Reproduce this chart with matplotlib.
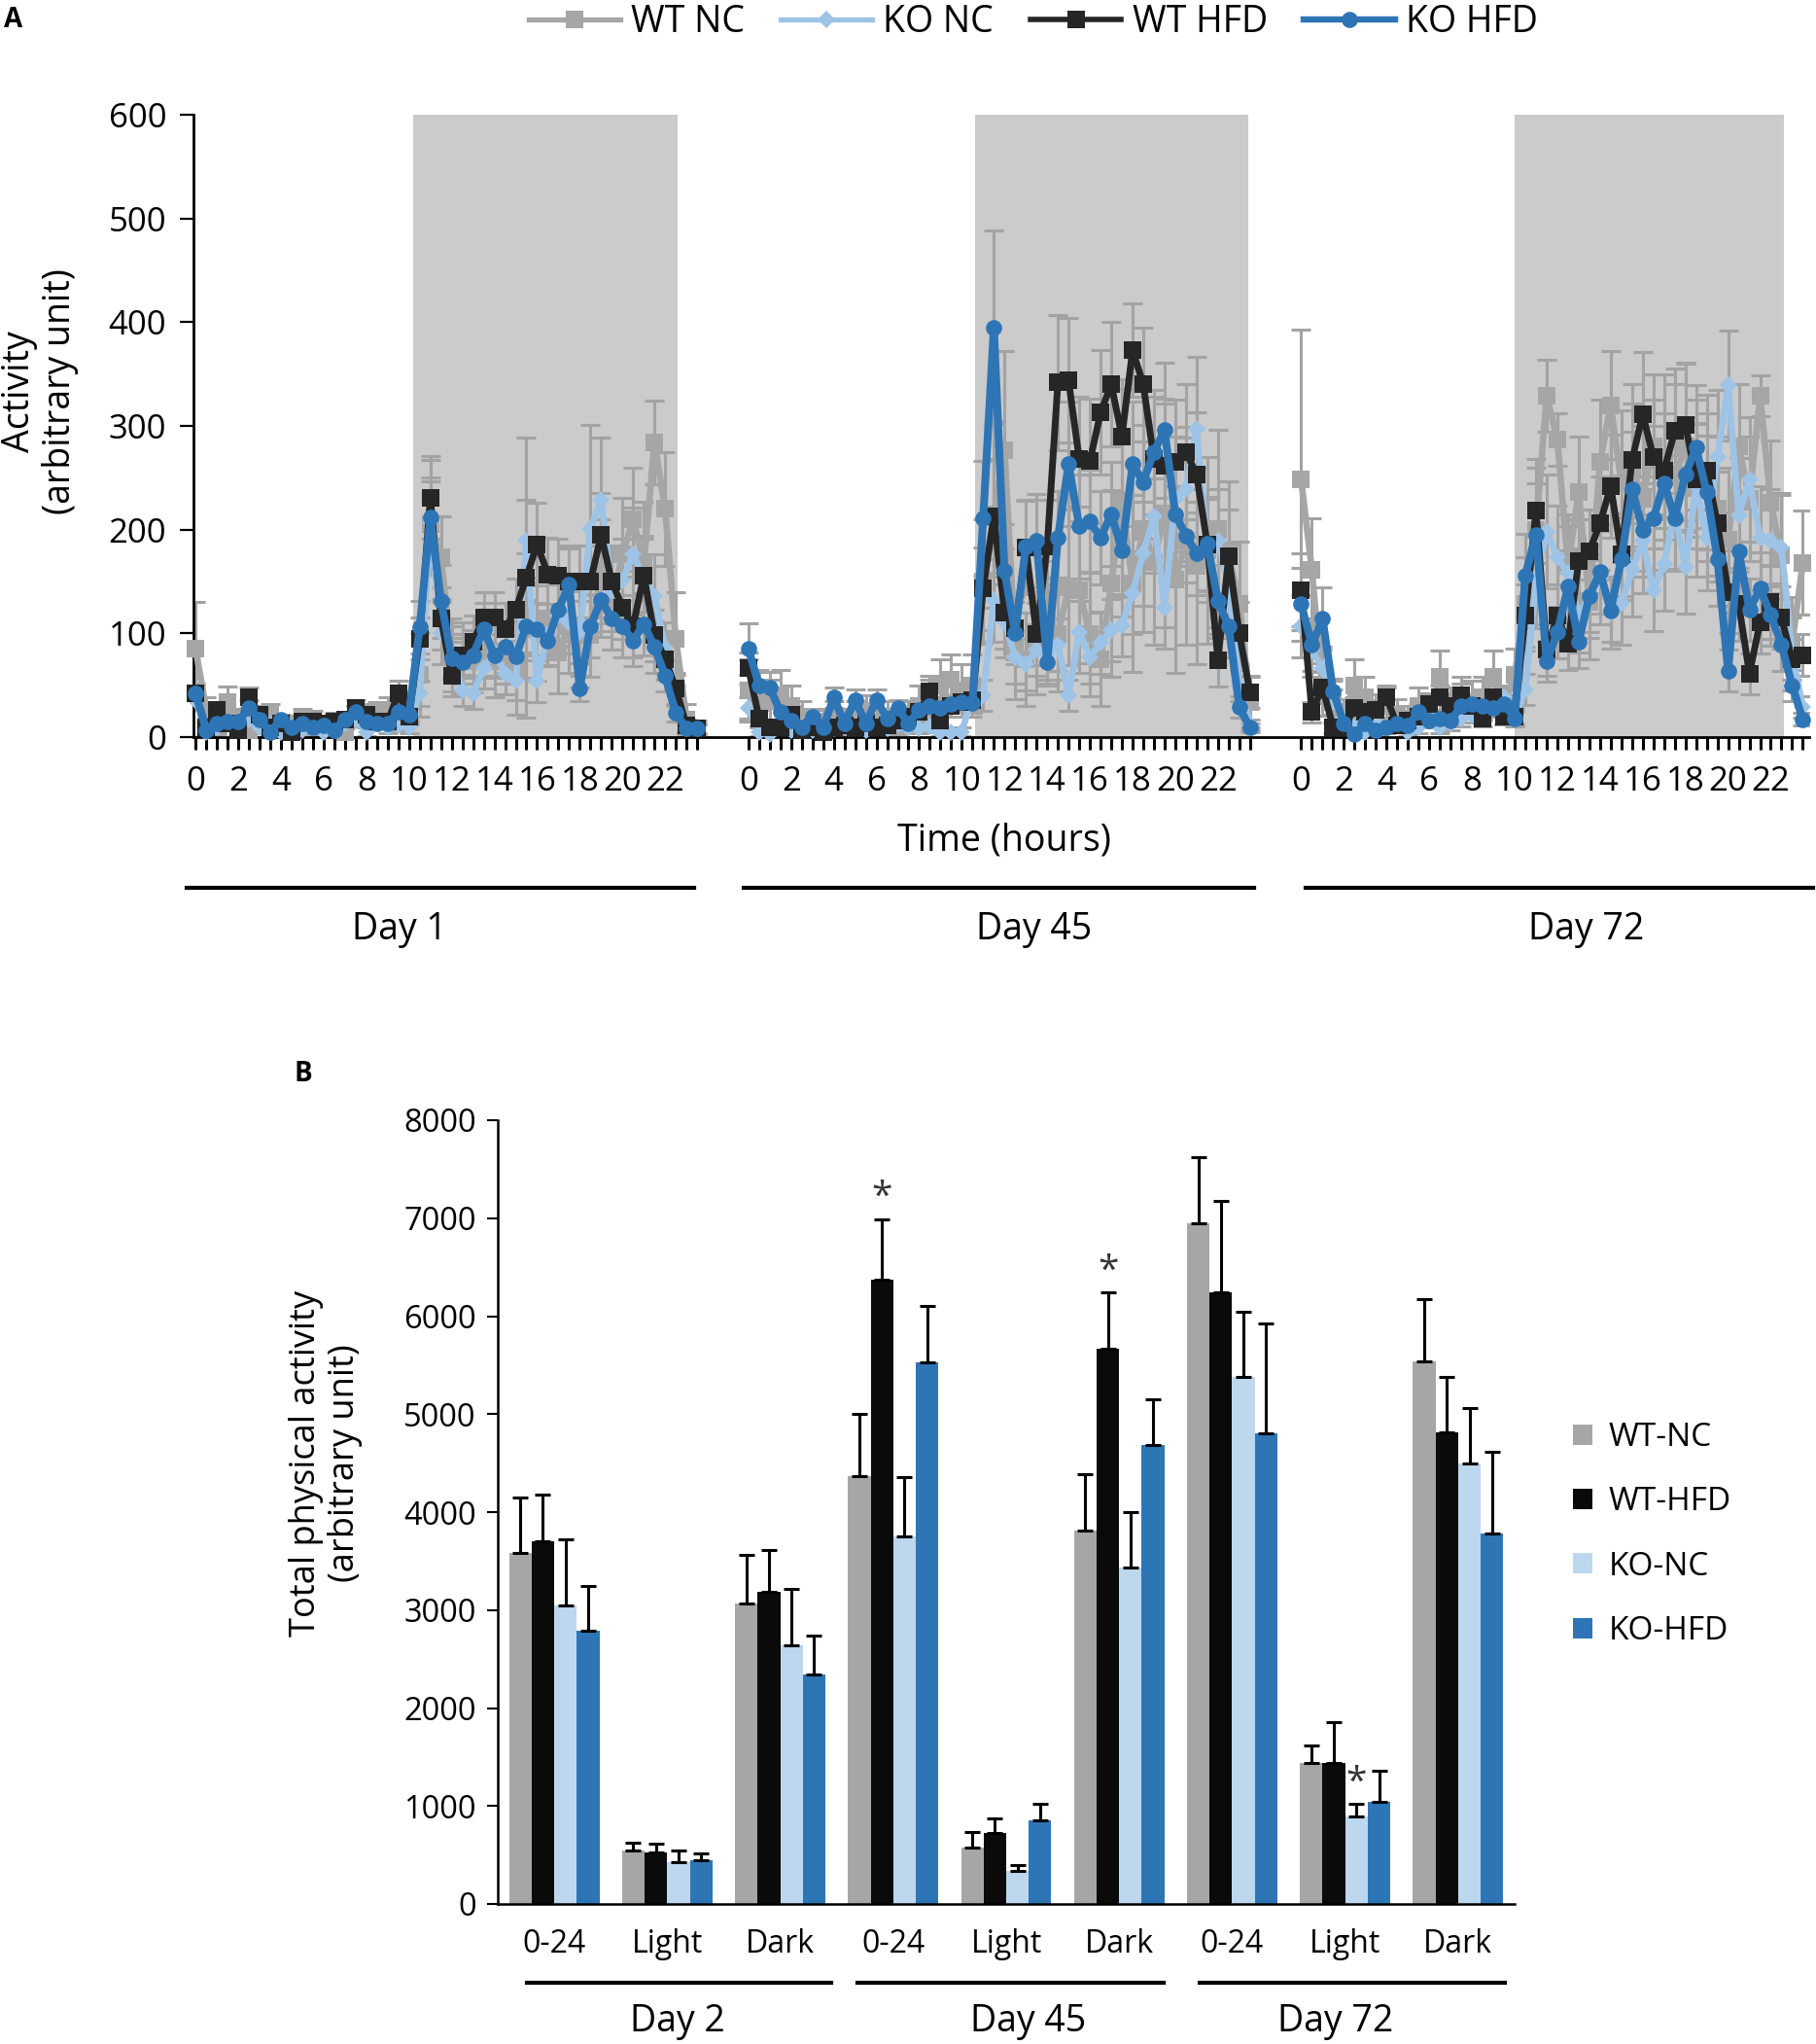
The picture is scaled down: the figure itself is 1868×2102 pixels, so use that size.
import matplotlib
matplotlib.use('Agg')
import matplotlib.pyplot as plt
import numpy as np
from matplotlib.lines import Line2D
from matplotlib.patches import Patch

plt.rcParams['font.family'] = ['Open Sans', 'DejaVu Sans']

# ---------------- DATA : panel A (half-hourly activity) ----------------
hours = np.arange(0, 24, 0.5)
day_names_a = ['Day 1', 'Day 45', 'Day 72']
series_names = ['WT NC', 'KO NC', 'WT HFD', 'KO HFD']
dark_start = [10.2, 10.6, 10.0]
dark_end = [22.6, 23.4, 22.6]

wt_nc_d1 = [85,26,13,34,17,7,17,22,9,13,17,15,13,15,5,20,22,24,26,17,
            28,60,205,173,79,76,73,82,73,82,67,117,104,114,82,107,98,98,160,129,176,210,167,284,220,95,17,8]
ko_nc_d1 = [36,5,9,13,7,17,9,11,5,9,7,9,5,9,13,17,5,13,9,11,
            9,42,207,100,82,45,42,67,82,61,54,189,54,98,117,111,101,201,229,142,151,176,154,136,86,45,11,8]
wt_hfd_d1 = [42,9,26,13,7,38,22,9,13,5,15,15,13,15,17,28,22,15,15,42,
             20,95,231,114,59,79,92,115,115,104,123,154,186,157,156,150,150,150,195,150,125,107,156,98,75,47,11,8]
ko_hfd_d1 = [42,7,13,15,15,28,17,5,17,9,13,9,11,7,17,24,15,13,13,24,
             22,106,212,131,76,72,79,104,79,87,78,107,104,93,123,147,47,107,132,114,107,93,109,87,59,23,8,8]

wt_nc_d45 = [45,30,35,40,30,20,15,15,20,15,20,25,15,20,15,20,30,35,50,55,
             45,50,150,215,277,87,75,91,110,99,144,142,99,75,148,226,148,201,169,216,152,189,165,180,201,177,128,34]
ko_nc_d45 = [28,5,3,9,7,9,7,10,8,12,9,7,10,8,12,9,8,10,5,5,
             5,40,40,132,112,77,70,84,80,89,40,101,77,91,103,108,139,177,213,125,230,239,297,180,189,146,50,12]
wt_hfd_d45 = [67,18,9,9,22,7,9,5,9,11,9,13,9,11,16,20,24,44,16,30,
              34,36,143,213,120,105,183,99,184,342,344,268,266,313,340,290,373,340,268,262,265,275,253,186,74,174,100,43]
ko_hfd_d45 = [85,50,48,24,16,9,20,9,38,13,36,13,36,18,28,13,26,30,28,32,
              34,33,211,395,160,100,184,189,72,192,263,203,208,192,215,180,263,246,275,296,215,194,177,187,131,107,29,9]

wt_nc_d72 = [248,161,46,34,22,50,38,26,30,22,18,30,24,58,30,38,34,38,58,30,
             60,128,200,329,287,165,236,130,265,320,245,260,230,280,270,250,280,240,250,220,190,280,230,329,226,175,90,168]
ko_nc_d72 = [107,83,67,34,18,9,5,13,9,11,5,9,30,9,13,18,22,26,30,38,
             18,46,150,198,173,158,117,136,154,120,129,161,189,142,167,217,164,242,192,270,339,214,248,192,189,183,80,29]
wt_hfd_d72 = [142,24,48,9,9,28,24,26,38,11,16,20,32,38,30,40,30,18,38,20,
              20,117,218,84,117,90,170,179,206,242,176,267,311,270,257,295,301,248,257,206,140,128,61,111,130,115,75,79]
ko_hfd_d72 = [128,89,114,44,13,3,13,7,9,13,11,24,16,18,16,30,32,30,28,32,
              18,156,195,73,101,145,92,136,159,122,172,239,200,211,245,211,253,279,236,172,64,179,123,143,118,89,50,17]

wt_nc_err_d1 = [45,12,10,15,10,8,10,10,8,8,10,10,8,8,6,10,10,10,12,10,
                15,40,45,40,35,35,30,35,35,30,45,60,50,45,40,45,50,40,50,45,55,50,60,40,55,45,15,8]
wt_nc_err_d45 = [30,20,20,25,20,15,12,12,15,12,15,15,12,15,12,15,20,20,25,25,
                 25,30,60,90,95,50,45,50,60,55,75,80,60,45,90,110,85,100,80,110,90,100,95,90,95,70,60,25]
wt_nc_err_d72 = [145,50,25,20,15,25,20,15,18,15,12,18,15,25,18,20,20,20,25,18,
                 25,45,60,35,25,50,54,55,60,52,70,80,70,70,80,90,80,85,80,70,70,60,60,20,60,60,45,50]
wt_hfd_err_d1 = [10,6,8,6,5,10,8,5,6,4,6,6,6,6,6,8,8,6,6,12,
                 8,20,40,30,20,20,25,25,25,25,30,135,40,35,35,35,35,35,40,35,30,30,35,25,20,15,6,5]
wt_hfd_err_d45 = [15,8,6,6,8,5,6,4,6,6,6,6,6,6,8,8,10,15,8,10,
                  10,12,40,55,35,30,45,30,45,65,60,60,60,60,60,55,45,55,60,60,60,65,60,45,25,45,30,15]
wt_hfd_err_d72 = [35,10,15,5,5,10,10,10,12,6,8,8,10,12,10,12,10,8,12,8,
                  8,30,50,25,30,25,40,40,45,50,40,55,60,55,55,60,60,55,55,50,40,35,20,30,35,30,20,20]
ko_nc_err_d1 = [10,4,5,5,4,6,5,5,4,5,4,5,4,5,5,6,4,5,5,5,
                5,12,40,30,25,15,15,20,25,20,18,40,20,30,30,30,30,100,60,40,40,45,40,40,25,15,5,5]
ko_nc_err_d45 = [10,4,3,5,4,5,4,5,4,5,5,4,5,4,5,5,4,5,4,4,
                 4,12,15,40,35,25,25,25,25,25,15,30,25,30,30,30,40,50,55,40,60,60,70,50,50,40,15,5]
ko_nc_err_d72 = [30,25,20,12,8,5,4,6,5,5,4,5,10,5,6,8,8,10,10,12,
                 8,15,45,55,50,45,35,40,45,35,40,45,50,40,45,55,45,60,50,65,53,55,60,50,50,50,35,10]
ko_hfd_err_d1 = [8,4,5,5,5,8,5,4,5,4,5,4,4,4,5,6,5,4,4,6,
                 6,25,55,35,20,20,20,25,20,25,20,25,25,25,30,35,12,30,35,30,30,25,30,25,15,8,4,4]
ko_hfd_err_d45 = [25,15,15,8,6,4,6,4,10,5,10,5,10,6,8,5,8,8,8,8,
                  10,10,55,93,45,30,45,45,20,45,60,50,50,45,50,45,60,55,60,65,50,45,40,45,35,30,10,4]
ko_hfd_err_d72 = [35,25,30,12,5,3,5,4,4,5,4,8,5,6,5,8,8,8,8,8,
                  6,40,50,20,25,35,25,35,40,30,40,55,45,50,55,50,55,60,55,45,20,45,30,35,30,25,15,6]

# ---------------- DATA : panel B (totals) ----------------
b_categories = ['0-24', 'Light', 'Dark', '0-24', 'Light', 'Dark', '0-24', 'Light', 'Dark']
b_days = ['Day 2', 'Day 45', 'Day 72']
b_series = ['WT-NC', 'WT-HFD', 'KO-NC', 'KO-HFD']
b_wt_nc = [3583, 550, 3066, 4364, 577, 3809, 6950, 1439, 5539]
b_wt_hfd = [3701, 523, 3190, 6374, 722, 5668, 6245, 1439, 4817]
b_ko_nc = [3044, 426, 2640, 3755, 334, 3438, 5383, 889, 4494]
b_ko_hfd = [2786, 447, 2344, 5528, 851, 4688, 4806, 1045, 3782]
b_wt_nc_err = [566, 80, 501, 641, 161, 577, 668, 177, 630]
b_wt_hfd_err = [475, 91, 420, 614, 151, 571, 932, 420, 560]
b_ko_nc_err = [674, 124, 571, 598, 65, 560, 657, 129, 565]
b_ko_hfd_err = [458, 70, 398, 577, 173, 463, 1115, 313, 836]
b_star_cat = [3, 5, 7]
b_star_series = [1, 1, 2]

# ---------------- STYLE / LAYOUT ----------------
W, H = 1868, 2102
def fx(p): return p / W
def fy(p): return 1 - p / H

day_offset = [0, 25.9, 51.8]
colA = {'WT NC': '#a6a6a6', 'KO NC': '#9dc3e6', 'WT HFD': '#262626', 'KO HFD': '#2e75b6'}
mkA = {'WT NC': ('s', 13), 'KO NC': ('D', 9.5), 'WT HFD': ('s', 13), 'KO HFD': ('o', 12)}
lwA = {'WT NC': 4.8, 'KO NC': 4.8, 'WT HFD': 5.0, 'KO HFD': 5.8}
colB = ['#a6a6a6', '#0a0a0a', '#bdd7ee', '#2e75b6']

fig = plt.figure(figsize=(W / 100, H / 100), dpi=100)

# ================= Panel A =================
axA = fig.add_axes([fx(199), fy(758), fx(1861) - fx(199), fy(118) - fy(758)])
vals = {
    'WT NC': [wt_nc_d1, wt_nc_d45, wt_nc_d72],
    'KO NC': [ko_nc_d1, ko_nc_d45, ko_nc_d72],
    'WT HFD': [wt_hfd_d1, wt_hfd_d45, wt_hfd_d72],
    'KO HFD': [ko_hfd_d1, ko_hfd_d45, ko_hfd_d72],
}
errs = {
    'WT NC': [wt_nc_err_d1, wt_nc_err_d45, wt_nc_err_d72],
    'KO NC': [ko_nc_err_d1, ko_nc_err_d45, ko_nc_err_d72],
    'WT HFD': [wt_hfd_err_d1, wt_hfd_err_d45, wt_hfd_err_d72],
    'KO HFD': [ko_hfd_err_d1, ko_hfd_err_d45, ko_hfd_err_d72],
}
for d in range(3):
    axA.axvspan(day_offset[d] + dark_start[d], day_offset[d] + dark_end[d],
                ymin=0, ymax=1, color='#cbcbcb', lw=0, zorder=0)

for name in series_names:
    for d in range(3):
        x = hours + day_offset[d]
        axA.errorbar(x, vals[name][d], yerr=errs[name][d], fmt='none',
                     ecolor='#a3a3a3', elinewidth=2.2, capsize=7, capthick=2.2, zorder=2)
for z, name in enumerate(series_names):
    for d in range(3):
        x = hours + day_offset[d]
        m, ms = mkA[name]
        axA.plot(x, vals[name][d], color=colA[name], lw=lwA[name], marker=m,
                 markersize=ms, markeredgewidth=0, zorder=3 + z, clip_on=False)

axA.set_xlim(-0.1, 75.6)
axA.set_ylim(0, 600)
axA.set_yticks([0, 100, 200, 300, 400, 500, 600])
axA.tick_params(axis='y', labelsize=25, length=10, width=1.6, direction='out', pad=10)
xt, xl = [], []
for d in range(3):
    for h in hours:
        xt.append(day_offset[d] + h)
        xl.append(str(int(h)) if h % 2 == 0 else '')
axA.set_xticks(xt)
axA.set_xticklabels(xl)
axA.tick_params(axis='x', labelsize=25, length=9, width=2.2, direction='out', pad=12)
for s in ['top', 'right']:
    axA.spines[s].set_visible(False)
for s in ['left', 'bottom']:
    axA.spines[s].set_linewidth(2.0)

fig.text(fx(1033), fy(864), 'Time (hours)', ha='center', va='center', fontsize=27)
for (x0, x1), lab, cx in zip([(192, 714), (765, 1290), (1343, 1865)], day_names_a, [411, 1064, 1632]):
    fig.add_artist(Line2D([fx(x0), fx(x1)], [fy(913), fy(913)], color='black', lw=3))
    fig.text(fx(cx), fy(956), lab, ha='center', va='center', fontsize=27)

fig.text(fx(41), fy(403), 'Activity\n(arbitrary unit)', rotation=90, ha='center', va='center',
         fontsize=27, linespacing=1.15)
fig.text(fx(14), fy(20), 'A', fontsize=20, fontweight='bold', ha='center', va='center')

handles = []
for name in series_names:
    m, ms = mkA[name]
    handles.append(Line2D([], [], color=colA[name], lw=lwA[name] * 0.8, marker=m, markersize=ms,
                          markeredgewidth=0))
fig.legend(handles, series_names, loc='center', bbox_to_anchor=(fx(1063), fy(23)), ncol=4,
           frameon=False, fontsize=27, handlelength=2.5, handletextpad=0.3, columnspacing=1.0)

# ================= Panel B =================
axB = fig.add_axes([fx(512), fy(1958), fx(1558) - fx(512), fy(1152) - fy(1958)])
bvals = [b_wt_nc, b_wt_hfd, b_ko_nc, b_ko_hfd]
berrs = [b_wt_nc_err, b_wt_hfd_err, b_ko_nc_err, b_ko_hfd_err]
xc = np.arange(len(b_categories)) + 0.5
bw = 0.2
offs = [-1.5 * bw, -0.5 * bw, 0.5 * bw, 1.5 * bw]
for i in range(4):
    axB.bar(xc + offs[i], bvals[i], width=bw, color=colB[i], label=b_series[i], zorder=2)
    axB.errorbar(xc + offs[i], bvals[i], yerr=[[0] * len(bvals[i]), berrs[i]], fmt='none',
                 ecolor='black', elinewidth=2.2, capsize=6, capthick=2.2, zorder=3)
for c, s in zip(b_star_cat, b_star_series):
    top = bvals[s][c] + berrs[s][c]
    axB.annotate('*', (xc[c] + offs[s], top), xytext=(0, 2), textcoords='offset points',
                 ha='center', va='bottom', fontsize=28, color='#333333')

axB.set_xlim(0, len(b_categories))
axB.set_ylim(0, 8000)
axB.set_yticks(range(0, 8001, 1000))
axB.set_xticks(xc)
axB.set_xticklabels(b_categories)
axB.tick_params(axis='x', length=0, labelsize=23, pad=18)
axB.tick_params(axis='y', length=8, width=1.5, labelsize=23.5, pad=8)
for s in ['top', 'right']:
    axB.spines[s].set_visible(False)
for s in ['left', 'bottom']:
    axB.spines[s].set_linewidth(1.8)

for (x0, x1), lab, cx in zip([(542, 855), (882, 1197), (1234, 1548)], b_days, [697, 1058, 1374]):
    fig.add_artist(Line2D([fx(x0), fx(x1)], [fy(2039), fy(2039)], color='black', lw=3))
    fig.text(fx(cx), fy(2079), lab, ha='center', va='center', fontsize=27)

fig.text(fx(335), fy(1505), 'Total physical activity\n(arbitrary unit)', rotation=90,
         ha='center', va='center', fontsize=26, linespacing=1.15)
fig.text(fx(312), fy(1105), 'B', fontsize=20, fontweight='bold', ha='center', va='center')

bh = [Patch(facecolor=colB[i], edgecolor='none') for i in range(4)]
fig.legend(bh, b_series, loc='center left', bbox_to_anchor=(fx(1588), fy(1578)), frameon=False,
           fontsize=24, handlelength=0.6, handleheight=0.6, handletextpad=0.5, labelspacing=1.0)

fig.savefig('out.png', dpi=100)
